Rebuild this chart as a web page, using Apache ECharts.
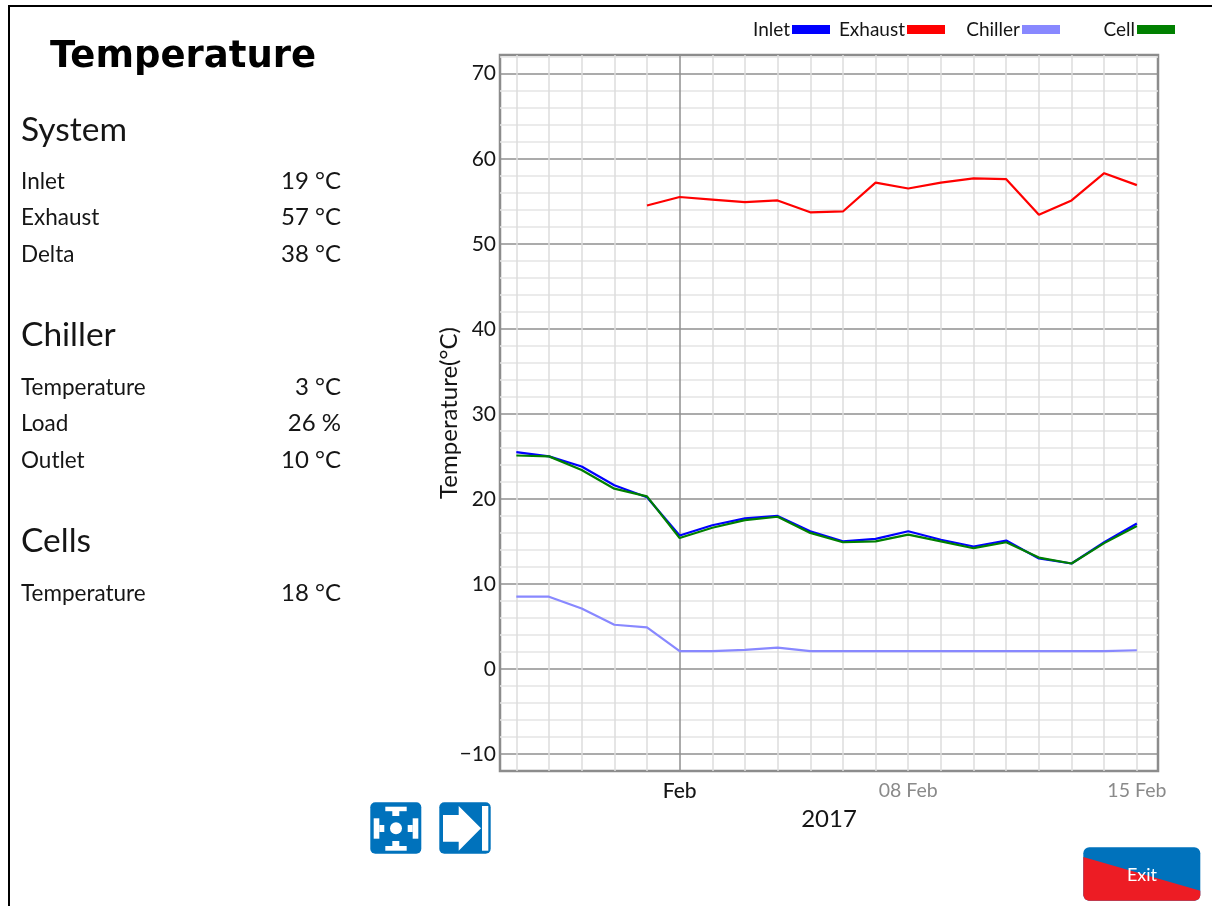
<!DOCTYPE html>
<html><head><meta charset="utf-8">
<style>html,body{margin:0;padding:0;background:#fff}#c{width:1212px;height:906px}</style>
<script src="https://cdn.jsdelivr.net/npm/echarts@6/dist/echarts.min.js"></script>
</head><body><div id="c"></div>
<script>
// x positions are the day of the year 2017 (32 = 1 Feb)
const dayOfYear = [27,28,29,30,31,32,33,34,35,36,37,38,39,40,41,42,43,44,45,46];
const labelDays = [32,39,46];
const labelTexts = ['Feb','08 Feb','15 Feb'];
const inlet = [25.5,25.0,23.8,21.6,20.2,15.7,16.9,17.7,18.0,16.2,15.0,15.3,16.2,15.2,14.4,15.1,13.0,12.4,14.9,17.1];
const exhaust = [null,null,null,null,54.5,55.5,55.2,54.9,55.1,53.7,53.8,57.2,56.5,57.2,57.7,57.6,53.4,55.1,58.3,56.9];
const chiller = [8.5,8.5,7.1,5.2,4.9,2.1,2.1,2.25,2.5,2.1,2.1,2.1,2.1,2.1,2.1,2.1,2.1,2.1,2.1,2.2];
const cell = [25.1,25.0,23.4,21.2,20.3,15.4,16.6,17.5,17.9,16.0,14.9,15.0,15.8,15.0,14.2,14.9,13.1,12.4,14.8,16.8];
const seriesNames = ['Inlet','Exhaust','Chiller','Cell'];
const seriesColors = ['#0000ff','#ff0000','#8888ff','#008000'];
const legendRight = [382,267,152,37];
const panelHeaders = [['System',130.5],['Chiller',335.5],['Cells',541.5]];
const panelRows = [['Inlet','19 °C',181],['Exhaust','57 °C',217],['Delta','38 °C',254],['Temperature','3 °C',387],['Load','26 %',423],['Outlet','10 °C',460],['Temperature','18 °C',593]];
const FONT = 'Lato';
const INK = '#151515';

const yColors = ['#8f8f8f','#e4e4e4','#e4e4e4','#e4e4e4','#e4e4e4'];
const xColors = dayOfYear.map(d => d === 32 ? '#8f8f8f' : '#dcdcdc');

function txt(x, y, text, size, opt) {
  return {type:'text', x, y, silent:true, style:Object.assign({text, fontFamily:FONT, fontSize:size, fill:INK, verticalAlign:'middle', align:'left'}, opt||{})};
}
const white = {fill:'#fff'};
const blue = '#0072bc';
const graphics = [
  {type:'line', shape:{x1:9,y1:5,x2:9,y2:906}, style:{stroke:'#000',lineWidth:2}},
  {type:'line', shape:{x1:8,y1:6,x2:1212,y2:6}, style:{stroke:'#000',lineWidth:2}},
  txt(50,57,'Temperature',37,{fontWeight:'bold',fontFamily:'DejaVu Sans',fill:'#000'}),
  ...panelHeaders.map(h => txt(21,h[1],h[0],33.5)),
  ...panelRows.map(r => txt(21,r[2]+1,r[0],22.5)),
  ...panelRows.map(r => txt(341,r[2],r[1],24,{align:'right'})),
  {type:'rect', shape:{x:370.3,y:802.3,width:51,height:51.5,r:5}, style:{fill:blue}},
  {type:'circle', shape:{cx:396,cy:828.3,r:6}, style:white},
  {type:'rect', shape:{x:385.3,y:806.7,width:21.4,height:4.5}, style:white},
  {type:'rect', shape:{x:392.3,y:811,width:7,height:5}, style:white},
  {type:'rect', shape:{x:385.3,y:846,width:21.4,height:4.7}, style:white},
  {type:'rect', shape:{x:392.3,y:841,width:7,height:5}, style:white},
  {type:'rect', shape:{x:373.7,y:818.3,width:5.6,height:20.4}, style:white},
  {type:'rect', shape:{x:379.3,y:825,width:5,height:7}, style:white},
  {type:'rect', shape:{x:412.7,y:818.3,width:5.6,height:20.4}, style:white},
  {type:'rect', shape:{x:407.7,y:825,width:5,height:7}, style:white},
  {type:'rect', shape:{x:439.3,y:802.3,width:51.4,height:51.5,r:5}, style:{fill:blue}},
  {type:'polygon', shape:{points:[[443,815],[458.7,815],[458.7,806],[481,828.3],[458.7,850.7],[458.7,841.7],[443,841.7]]}, style:white},
  {type:'rect', shape:{x:482,y:806,width:6.3,height:44.7}, style:white},
  {type:'rect', shape:{x:1083.3,y:847.3,width:117,height:53.4,r:6}, style:{fill:blue}},
  {type:'polygon', shape:{points:[[1083.3,857],[1200.3,890.7],[1200.3,895.5],[1199,899],[1195,900.7],[1088.5,900.7],[1085,899.2],[1083.3,895.5]]}, style:{fill:'#ed1c24'}},
  txt(1142,875,'Exit',18,{align:'center',fill:'#fff'})
];

const chart = echarts.init(document.getElementById('c'), null, {renderer:'canvas'});
chart.setOption({
  animation:false,
  backgroundColor:'#fff',
  textStyle:{fontFamily:FONT},
  legend: seriesNames.map((n,i) => ({
    data:[{name:n, icon:'rect'}], align:'right', orient:'horizontal', top:20, right:legendRight[i],
    itemWidth:38, itemHeight:9, itemGap:0, selectedMode:false,
    textStyle:{fontFamily:FONT, fontSize:19, color:INK, padding:[0,-3,0,0]}, padding:0
  })),
  grid:{left:500,top:55,width:658,height:716,show:true,backgroundColor:'#fff',borderColor:'#8c8c8c',borderWidth:2.5},
  xAxis:{
    type:'value', min:26.5, max:46.647,
    name:'2017', nameLocation:'middle', nameGap:34,
    nameTextStyle:{fontFamily:FONT,fontSize:24,color:INK},
    axisLine:{show:false}, axisTick:{show:false, customValues:dayOfYear},
    splitLine:{show:true, showMinLine:true, showMaxLine:true, lineStyle:{color:xColors,width:1.5}},
    axisLabel:{customValues:labelDays, margin:10, fontFamily:FONT, hideOverlap:false, showMinLabel:true, showMaxLabel:true,
      formatter:v => { const i = labelDays.indexOf(+v); const s = labelTexts[i] || ''; return i === 0 ? '{m|'+s+'}' : '{d|'+s+'}'; },
      rich:{m:{fontFamily:FONT,fontSize:21,color:INK,fontWeight:500},d:{fontFamily:FONT,fontSize:19.5,color:'#8a8a8a'}}}
  },
  yAxis:{
    type:'value', min:-12, max:72.2, interval:2,
    name:'Temperature(°C)', nameLocation:'middle', nameGap:39, nameRotate:90, nameMoveOverlap:false,
    nameTextStyle:{fontFamily:FONT,fontSize:24,color:INK},
    axisLine:{show:false}, axisTick:{show:false},
    splitLine:{show:true, showMinLine:false, showMaxLine:false, lineStyle:{color:yColors,width:1.5}},
    axisLabel:{margin:4, fontFamily:FONT, fontSize:21, color:INK, showMinLabel:true, showMaxLabel:false,
      formatter:v => v % 10 === 0 ? String(v).replace('-','\u2212') : ''}
  },
  series:[inlet,exhaust,chiller,cell].map((d,i) => ({
    name:seriesNames[i], type:'line', data:dayOfYear.map((x,j) => [x,d[j]]), showSymbol:false, symbol:'none', connectNulls:false,
    lineStyle:{color:seriesColors[i],width:2.2}, itemStyle:{color:seriesColors[i]}, z:3+i, silent:true
  })),
  graphic:{elements:graphics}
});
</script></body></html>
